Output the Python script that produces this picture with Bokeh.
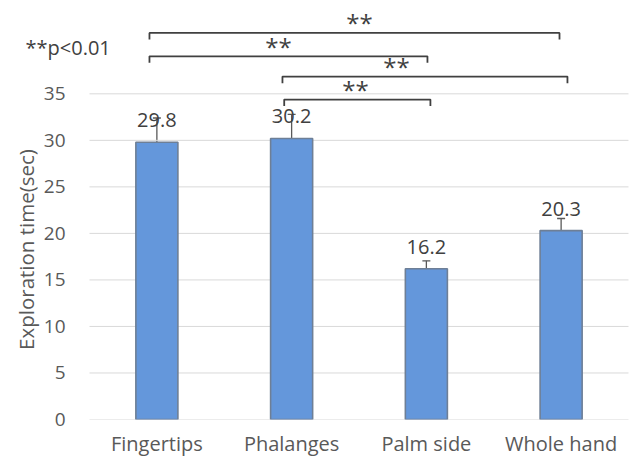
from bokeh.plotting import figure
from bokeh.models import ColumnDataSource, FixedTicker, Label, Whisker, TeeHead
from bokeh.core.properties import value
from bokeh.embed import file_html
from bokeh.resources import INLINE

# ---- data ----
categories = ["Fingertips", "Phalanges", "Palm side", "Whole hand"]
times = [29.8, 30.2, 16.2, 20.3]
errors = [2.6, 2.6, 0.85, 1.3]
y_ticks = [0, 5, 10, 15, 20, 25, 30, 35]
# significance brackets: left x, right x, height (data units)
bracket_x0 = [0.945, 0.945, 1.932, 1.945]
bracket_x1 = [3.988, 3.008, 4.047, 3.03]
bracket_y = [41.54, 39.03, 36.85, 34.38]
star_x = [2.504, 1.903, 2.778, 2.474]
star_text = ["**", "**", "**", "**"]
note_text = "**p<0.01"
y_title = "Exploration time(sec)"

FONT = "Open Sans"
GREY = "#595959"
DARK = "#404040"

xs = [i + 1 for i in range(len(categories))]

p = figure(width=631, height=460, output_backend="svg", toolbar_location=None,
           x_range=(-0.1605, 4.5223), y_range=(0, 45.03),
           min_border_left=0, min_border_right=0, min_border_top=0,
           min_border_bottom=41)
p.outline_line_color = None
p.background_fill_color = "white"

src = ColumnDataSource(dict(x=xs, top=times,
                            lower=[t - e for t, e in zip(times, errors)],
                            upper=[t + e for t, e in zip(times, errors)],
                            lab=[f"{t:.1f}" for t in times]))

# grid lines over the category span only
p.segment(x0=[0.5] * len(y_ticks), x1=[4.5] * len(y_ticks), y0=y_ticks,
          y1=y_ticks, line_color="#D9D9D9", line_width=1)

p.vbar(x="x", top="top", width=0.312, source=src, fill_color="#6497DB",
       line_color="#6E7F96", line_width=1.6)

w = Whisker(base="x", lower="lower", upper="upper", source=src,
            line_color=GREY, line_width=1.3,
            lower_head=TeeHead(size=8, line_color=GREY, line_width=1.3),
            upper_head=TeeHead(size=8, line_color=GREY, line_width=1.3))
p.add_layout(w)

p.text(x="x", y="top", text="lab", source=src, text_align="center",
       text_baseline="alphabetic", y_offset=-22, text_font=value(FONT),
       text_font_size="20px", text_color=DARK)

# brackets
tick_len = 0.7
bx = [[a, a, b, b] for a, b in zip(bracket_x0, bracket_x1)]
by = [[y - tick_len, y, y, y - tick_len] for y in bracket_y]
p.multi_line(xs=bx, ys=by, line_color=DARK, line_width=1.8)
p.text(x=star_x, y=bracket_y, text=star_text, text_align="center",
       text_baseline="alphabetic", y_offset=-10, text_font=value(FONT),
       text_font_size="24px", text_color=DARK)

# axes
p.yaxis.ticker = FixedTicker(ticks=y_ticks)
p.xaxis.ticker = FixedTicker(ticks=xs)
p.xaxis.major_label_overrides = {x: c for x, c in zip(xs, categories)}
for ax in (p.xaxis[0], p.yaxis[0]):
    ax.axis_line_color = None
    ax.major_tick_line_color = None
    ax.minor_tick_line_color = None
    ax.major_tick_out = 0
    ax.major_tick_in = 0
    ax.minor_tick_out = 0
    ax.minor_tick_in = 0
    ax.major_label_text_font = FONT
    ax.major_label_text_color = GREY
p.yaxis.major_label_text_font_size = "19px"
p.xaxis.major_label_text_font_size = "20px"
p.yaxis.major_label_standoff = -65
p.xaxis.major_label_standoff = 10
p.xgrid.grid_line_color = None
p.ygrid.grid_line_color = None

p.add_layout(Label(x=0.030, y=18.27, text=y_title, angle=1.5708,
                   text_align="center", text_baseline="middle",
                   text_font=FONT, text_font_size="20.5px", text_color=GREY))
p.add_layout(Label(x=0.025, y=40.0, text=note_text, text_align="left",
                   text_baseline="alphabetic", text_font=FONT,
                   text_font_size="20px", text_color=DARK))

open("out.html", "w").write(file_html(p, INLINE))
